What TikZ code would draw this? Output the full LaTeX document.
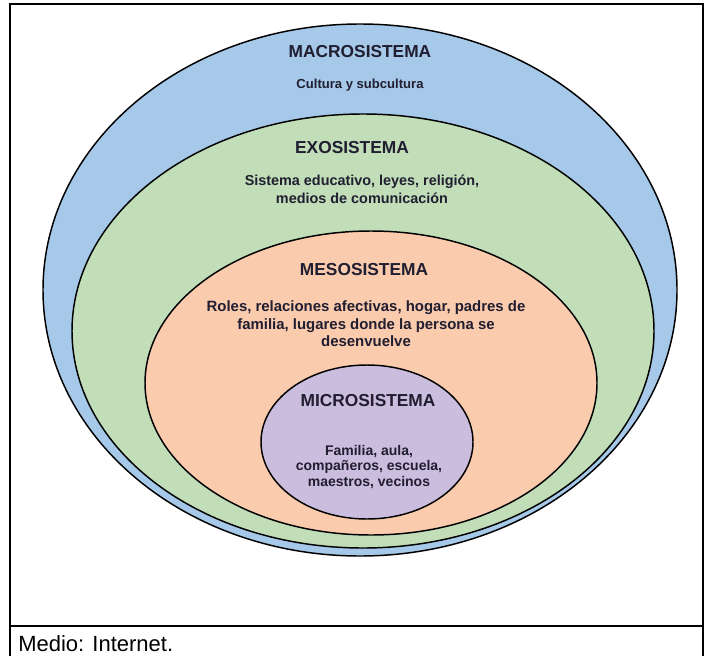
\documentclass[tikz,border=0pt]{standalone}
\usepackage{fontspec}
\setmainfont{Liberation Sans}
\definecolor{macrofill}{RGB}{166,201,233}
\definecolor{exofill}{RGB}{193,222,184}
\definecolor{mesofill}{RGB}{250,203,173}
\definecolor{microfill}{RGB}{203,189,221}
\definecolor{textcol}{RGB}{32,30,48}

\begin{document}
\begin{tikzpicture}[x=0.75pt,y=-0.75pt,
	capa/.style={draw=black,line width=1.1pt},
	titulo/.style={font=\bfseries\fontsize{13}{15}\selectfont,text=textcol,inner sep=0},
	cuerpo/.style={font=\bfseries\fontsize{10.8}{13.5}\selectfont,text=textcol,align=center,inner sep=0}]
	\useasboundingbox (0,0) rectangle (705,656);
	\draw[line width=1.5pt] (10,656) -- (10,4) -- (703,4) -- (703,656);
	\draw[line width=1.5pt] (10,626) -- (703,626);
	\filldraw[capa,fill=macrofill] (360,290) ellipse [x radius=317,y radius=266];
	\filldraw[capa,fill=exofill] (363,331) ellipse [x radius=291,y radius=217];
	\filldraw[capa,fill=mesofill] (371,383) ellipse [x radius=226,y radius=152];
	\filldraw[capa,fill=microfill] (367,442) ellipse [x radius=106,y radius=77];
	\node[titulo] (macro) at (360,52) {MACROSISTEMA};
	\node[cuerpo,font=\bfseries\fontsize{9.8}{12}\selectfont] (macrotxt) at (360,85) {Cultura y subcultura};
	\node[titulo] (exo) at (352,148) {EXOSISTEMA};
	\node[cuerpo] (exotxt) at (362,189) {Sistema educativo, leyes, religión,\\medios de comunicación};
	\node[titulo] (meso) at (364,270) {MESOSISTEMA};
	\node[cuerpo,font=\bfseries\fontsize{11.2}{13.2}\selectfont] (mesotxt) at (366,324) {Roles, relaciones afectivas, hogar, padres de\\familia, lugares donde la persona se\\desenvuelve};
	\node[titulo] (micro) at (368,401) {MICROSISTEMA};
	\node[cuerpo,font=\bfseries\fontsize{10.5}{11.8}\selectfont] (microtxt) at (369,467) {Familia, aula,\\compañeros, escuela,\\maestros, vecinos};
	\node[anchor=base west,font=\fontsize{16.5}{18}\selectfont,inner sep=0] (medio) at (18,651) {Medio: Internet.};
\end{tikzpicture}
\end{document}
